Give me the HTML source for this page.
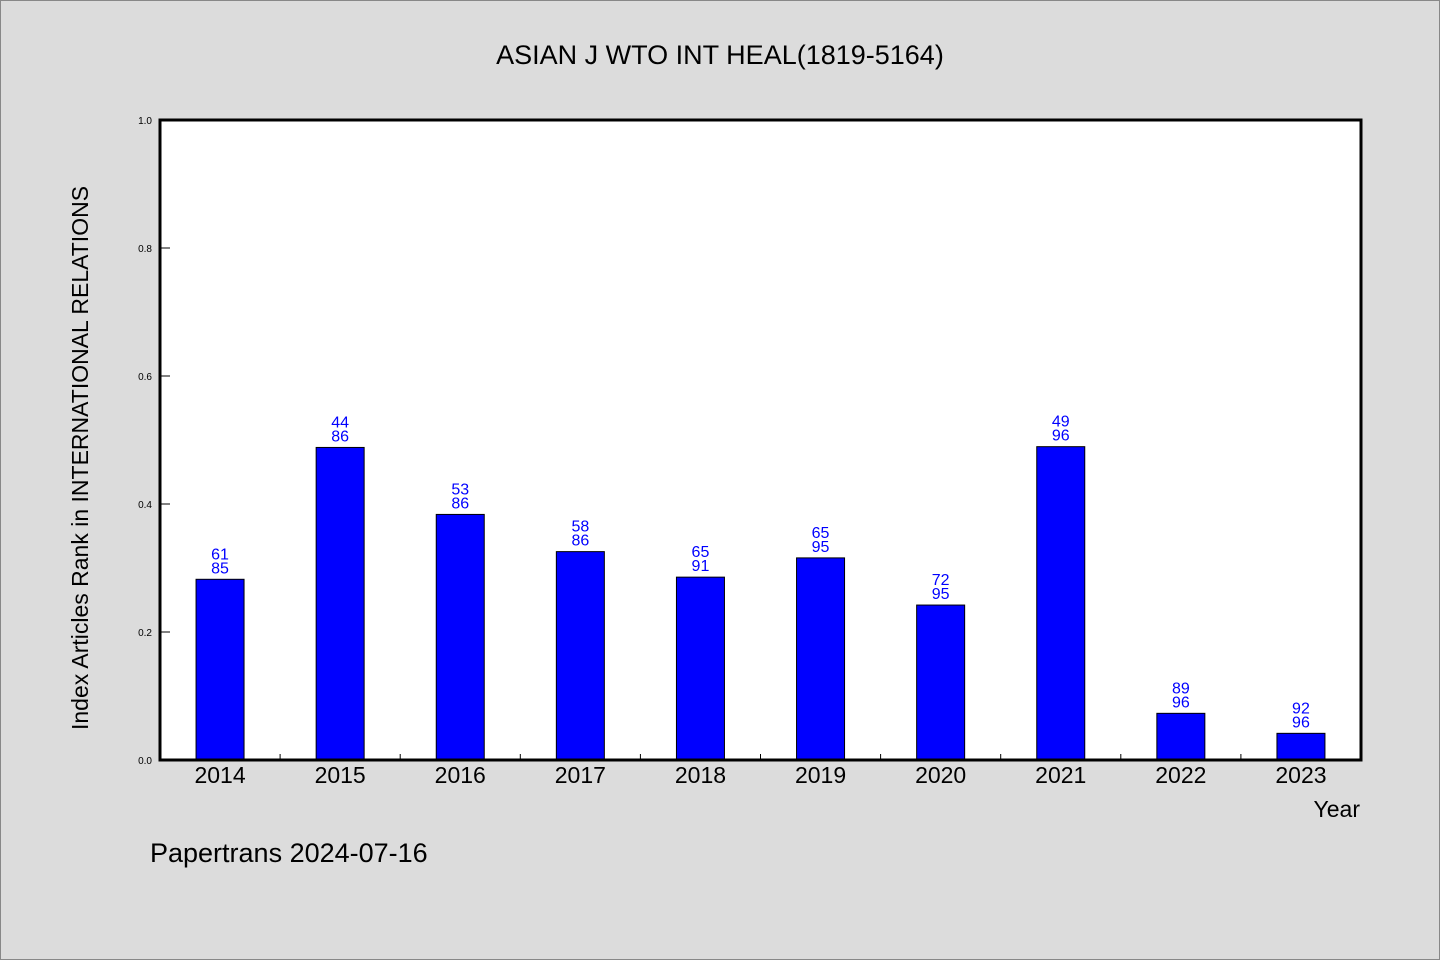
<!DOCTYPE html>
<html><head><meta charset="utf-8"><style>
body{margin:0;background:#dcdcdc;}
svg{display:block;font-family:"WenQuanYi Zen Hei","Liberation Sans",sans-serif;}
</style></head><body>
<svg id="chart" width="1440" height="960" viewBox="0 0 1440 960">
<rect x="0.5" y="0.5" width="1439" height="959" fill="#dcdcdc" stroke="#888"/>
<text x="720" y="64" font-size="27" text-anchor="middle" fill="#000">ASIAN J WTO INT HEAL(1819-5164)</text>
<rect x="160" y="120" width="1201" height="640" fill="#fff"/>
<g id="marks"></g>
<rect x="160" y="120" width="1201" height="640" fill="none" stroke="#000" stroke-width="3"/>
<text transform="translate(88,458) rotate(-90)" font-size="23" text-anchor="middle" fill="#000">Index Articles Rank in INTERNATIONAL RELATIONS</text>
<text x="1360" y="817" font-size="23" text-anchor="end" fill="#000">Year</text>
<text x="150" y="862" font-size="27" fill="#000">Papertrans 2024-07-16</text>
</svg>
<script>
const years = ["2014","2015","2016","2017","2018","2019","2020","2021","2022","2023"];
const ranks = [61,44,53,58,65,65,72,49,89,92];
const totals = [85,86,86,86,91,95,95,96,96,96];
const yTicks = [0,0.2,0.4,0.6,0.8,1.0];
const yTickLabels = ["0.0","0.2","0.4","0.6","0.8","1.0"];
const NS="http://www.w3.org/2000/svg";
const g=document.getElementById('marks');
const X0=160,X1=1361,Y0=760,Y1=120;
const slot=(X1-X0)/years.length;
const xc=i=>X0+slot*(i+0.5);
const yv=v=>Y0-(Y0-Y1)*v;
function el(t,a){const e=document.createElementNS(NS,t);for(const k in a)e.setAttribute(k,a[k]);g.appendChild(e);return e;}
yTicks.forEach((v,i)=>{
  const l=el('line',{x1:X0,x2:X0+10,y1:yv(v),y2:yv(v),stroke:'#000','stroke-width':1});
  
  
  const t=el('text',{x:X0-8,y:yv(v)+4,'font-size':10,'text-anchor':'end',fill:'#000'});
  t.textContent=yTickLabels[i];
  
  
});
years.forEach((y,i)=>{
  const v=1-ranks[i]/totals[i];
  const b=el('rect',{x:xc(i)-24,y:yv(v),width:48,height:Y0-yv(v),fill:'#0000ff',stroke:'#000','stroke-width':1});
  
  
  if(i>0){const tk=el('line',{x1:X0+slot*i,x2:X0+slot*i,y1:Y0,y2:Y0-6,stroke:'#000','stroke-width':1});
    
    }
  const t=el('text',{x:xc(i),y:Y0+23,'font-size':23,'text-anchor':'middle',fill:'#000'});
  t.textContent=y;
  
  
  const a=el('text',{x:xc(i),y:yv(v)-20,'font-size':16,'text-anchor':'middle',fill:'#0000ff'});
  a.textContent=ranks[i];
  
  
  const c=el('text',{x:xc(i),y:yv(v)-6,'font-size':16,'text-anchor':'middle',fill:'#0000ff'});
  c.textContent=totals[i];
  
  
});
</script>
</body></html>
